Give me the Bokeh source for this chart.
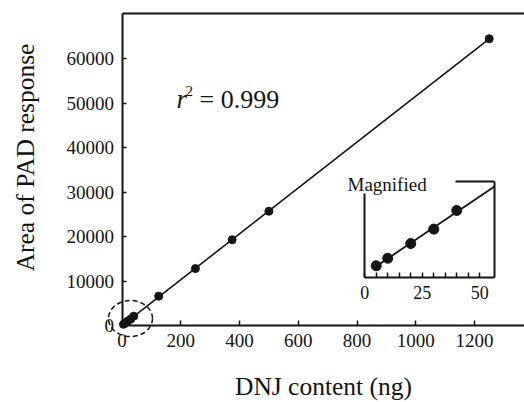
import numpy as np
from bokeh.plotting import figure
from bokeh.models import Range1d, LinearAxis, FixedTicker, Label, NumeralTickFormatter
from bokeh.embed import file_html
from bokeh.resources import INLINE

# ---------------- data ----------------
dnj_main = [125, 250, 375, 500, 1250]            # ng
area_main = [6600, 12800, 19300, 25700, 64500]   # PAD response area
dnj_low = [5, 10, 20, 30, 40]                    # ng (magnified region)
area_low = [260, 510, 1000, 1480, 2100]
x_ticks = [0, 200, 400, 600, 800, 1000, 1200]
y_ticks = [0, 10000, 20000, 30000, 40000, 50000, 60000]
inset_ticks = [0, 25, 50]
inset_minor = [5, 10, 15, 20, 30, 35, 40, 45]
x_title = "DNJ content (ng)"
y_title = "Area of PAD response"
r2_value = "= 0.999"
inset_title = "Magnified"

# ---------------- layout (pixels) ----------------
W, H = 524, 402
FL, FR, FT, FB = 0, 524, 0, 402            # frame edges (whole canvas)
X0PX, KX = 121.5, 0.29375                  # main x: px of 0, px per ng
Y0PX, KY = 325.0, 0.004445                 # main y: px of 0, px per unit
IX0PX, IKX = 364.2, 2.302                  # inset x
IYB_PX, IYB, IKY = 277.3, -140.0, 0.03005  # inset y: bottom px, value there, px/unit

def px2x(px):
    return (px - X0PX) / KX

def py2y(py):
    return (Y0PX - py) / KY

def ipx2x(px):
    return (px - IX0PX) / IKX

def ipy2y(py):
    return IYB + (IYB_PX - py) / IKY

INK = "#141414"
FONT = "Liberation Serif"

p = figure(width=W, height=H,
           x_range=Range1d(px2x(FL), px2x(FR)),
           y_range=Range1d(py2y(FB), py2y(FT)),
           x_axis_type=None, y_axis_type=None,
           output_backend="svg", toolbar_location=None,
           min_border_left=FL, min_border_right=W - FR,
           min_border_top=FT, min_border_bottom=H - FB)
p.outline_line_color = None
p.background_fill_color = "white"
p.border_fill_color = "white"

p.extra_x_ranges = {"ix": Range1d(ipx2x(FL), ipx2x(FR))}
p.extra_y_ranges = {"iy": Range1d(ipy2y(FB), ipy2y(FT))}

y_top = py2y(13)
x_end = px2x(FR)

def style_axis(ax, label_size="19px", lw=2):
    ax.axis_line_color = INK
    ax.axis_line_width = lw
    ax.major_tick_line_color = INK
    ax.major_tick_line_width = 1.5
    ax.minor_tick_line_color = None
    ax.major_tick_out = 0
    ax.major_tick_in = 5
    ax.major_label_text_font = FONT
    ax.major_label_text_font_size = label_size
    ax.major_label_text_color = INK
    ax.axis_label_text_font = FONT
    ax.axis_label_text_font_style = "normal"
    ax.axis_label_text_font_size = "25px"
    ax.axis_label_text_color = INK

def plain_axis(**kw):
    ax = LinearAxis(ticker=FixedTicker(ticks=[]), **kw)
    ax.axis_line_color = INK
    ax.axis_line_width = 2
    ax.major_tick_line_color = None
    ax.minor_tick_line_color = None
    return ax

# main axes
xa = LinearAxis(ticker=FixedTicker(ticks=x_ticks), fixed_location=0,
                bounds=(0, x_end), axis_label=x_title,
                formatter=NumeralTickFormatter(format="0"))
style_axis(xa)
xa.axis_label_text_font_size = "25.5px"
xa.major_label_standoff = 8
xa.axis_label_standoff = 22
p.add_layout(xa, "below")

ya = LinearAxis(ticker=FixedTicker(ticks=y_ticks), fixed_location=0,
                bounds=(0, y_top),
                formatter=NumeralTickFormatter(format="0"))
style_axis(ya)
ya.major_tick_in = 4
ya.major_label_standoff = 8
p.add_layout(ya, "left")

# y-axis title carried by a line-less axis centred where the reference title sits
yt = plain_axis(fixed_location=0, bounds=(py2y(301), y_top), axis_label=y_title)
style_axis(yt)
yt.axis_line_color = None
yt.major_tick_line_color = None
yt.axis_label_text_font_size = "25.5px"
yt.axis_label_standoff = 83
p.add_layout(yt, "left")

p.add_layout(plain_axis(fixed_location=y_top, bounds=(0, x_end)), "above")

# inset axes
ix_right = ipx2x(494)
iy_top = ipy2y(180.7)
ixa = LinearAxis(ticker=FixedTicker(ticks=inset_ticks, minor_ticks=inset_minor),
                 x_range_name="ix", y_range_name="iy",
                 fixed_location=IYB, bounds=(0, ix_right))
style_axis(ixa, label_size="18px")
ixa.minor_tick_line_color = INK
ixa.minor_tick_line_width = 1.5
ixa.minor_tick_in = 5
ixa.minor_tick_out = 0
ixa.major_label_standoff = 8
p.add_layout(ixa, "below")

p.add_layout(plain_axis(x_range_name="ix", y_range_name="iy", fixed_location=0,
                        bounds=(IYB, ipy2y(193))), "left")
p.add_layout(plain_axis(x_range_name="ix", y_range_name="iy", fixed_location=ix_right,
                        bounds=(IYB, iy_top)), "left")
p.add_layout(plain_axis(x_range_name="ix", y_range_name="iy", fixed_location=iy_top,
                        bounds=(ipx2x(455), ix_right)), "above")

# ---------------- marks ----------------
all_x = np.array(dnj_low + dnj_main, dtype=float)
all_y = np.array(area_low + area_main, dtype=float)
slope, icpt = np.polyfit(all_x, all_y, 1)
lx = np.array([0.0, all_x.max()])
p.line(lx, slope * lx + icpt, line_color=INK, line_width=1.6)
p.scatter(all_x, all_y, size=8, color=INK)

# magnified inset
s2, i2 = np.polyfit(np.array(dnj_low, float), np.array(area_low, float), 1)
ilx = np.array([dnj_low[0] * 0.7, ix_right])
p.line(ilx, s2 * ilx + i2, line_color=INK, line_width=1.8,
       x_range_name="ix", y_range_name="iy")
p.scatter(dnj_low, area_low, size=10, color=INK,
          x_range_name="ix", y_range_name="iy")

# dashed ellipse around the low-concentration points
p.ellipse(x=[px2x(130)], y=[py2y(318)], width=44, height=36,
          width_units="screen", height_units="screen",
          fill_color=None, line_color=INK, line_width=1.5, line_dash="5 3")

# ---------------- annotations ----------------
p.add_layout(Label(x=px2x(347), y=py2y(184), text=inset_title,
                   text_font=FONT, text_font_size="19px", text_color=INK,
                   text_baseline="alphabetic", text_align="left"))
p.add_layout(Label(x=px2x(176), y=py2y(98.5), text="r",
                   text_font=FONT, text_font_style="italic", text_font_size="27px",
                   text_color=INK, text_baseline="alphabetic", text_align="left"))
p.add_layout(Label(x=px2x(185), y=py2y(90), text="2",
                   text_font=FONT, text_font_size="15px",
                   text_color=INK, text_baseline="alphabetic", text_align="left"))
p.add_layout(Label(x=px2x(199), y=py2y(98.5), text=r2_value,
                   text_font=FONT, text_font_size="26px",
                   text_color=INK, text_baseline="alphabetic", text_align="left"))

open("out.html", "w").write(file_html(p, INLINE))
